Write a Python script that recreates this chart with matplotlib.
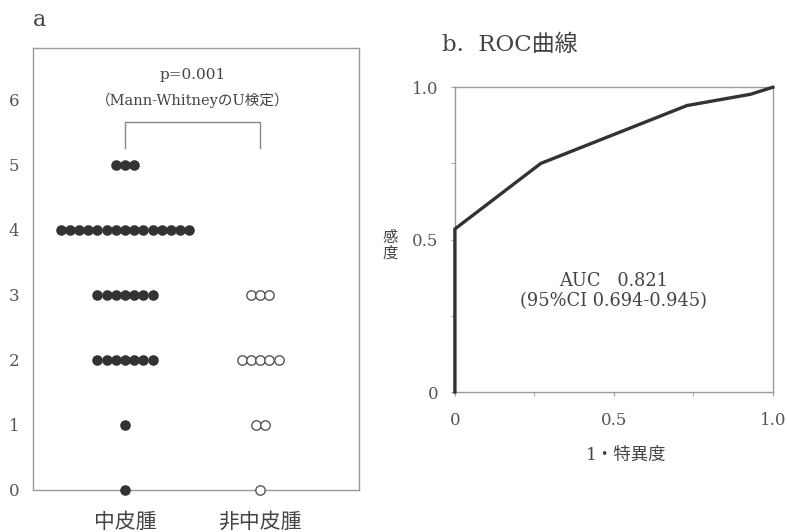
import matplotlib
matplotlib.use('Agg')
import matplotlib.pyplot as plt
import numpy as np

plt.rcParams['font.family'] = ['DejaVu Serif', 'Noto Sans CJK JP']

# panel a: score distribution
scores = [0, 1, 2, 3, 4, 5]
meso_counts = [1, 1, 7, 7, 15, 3]
nonmeso_counts = [1, 2, 5, 3, 0, 0]
group_labels = ['中皮腫', '非中皮腫']

# panel b: ROC curve
fpr = [0.0, 0.0, 0.27, 0.73, 0.93, 1.0]
tpr = [0.0, 0.535, 0.75, 0.94, 0.977, 1.0]
auc_text = 'AUC   0.821\n(95%CI 0.694-0.945)'

TXT = '#444444'
SPINE = '#9a9a9a'

fig = plt.figure(figsize=(7.87, 5.32), dpi=100)

# ---- a ----
ax = fig.add_axes([0.042, 0.079, 0.414, 0.831])
step = 0.068
for gx, counts, filled in [(1, meso_counts, True), (2, nonmeso_counts, False)]:
    for s, n in zip(scores, counts):
        if n == 0:
            continue
        xs = gx + (np.arange(n) - (n - 1) / 2) * step
        ys = np.full(n, s)
        if filled:
            ax.scatter(xs, ys, s=58, color='#333333', linewidth=0, zorder=3, clip_on=False)
        else:
            ax.scatter(xs, ys, s=46, facecolor='white', edgecolor='#555555',
                       linewidth=1.0, zorder=3, clip_on=False)

ax.set_xlim(0.32, 2.73)
ax.set_ylim(0, 6.8)
ax.set_yticks(range(0, 7))
ax.set_xticks([1, 2])
ax.set_xticklabels(group_labels)
ax.tick_params(axis='y', length=0, pad=10, labelsize=12, labelcolor='#555555')
ax.tick_params(axis='x', length=0, pad=16, labelsize=15, labelcolor=TXT)
for sp in ax.spines.values():
    sp.set_color(SPINE)
    sp.set_linewidth(1.0)

# significance bracket
ax.plot([1, 1, 2, 2], [5.26, 5.66, 5.66, 5.26], color='#888888', lw=1.0)
ax.text(1.5, 6.38, 'p=0.001', ha='center', va='center', fontsize=11, color=TXT)
ax.text(1.5, 6.0, '（Mann-WhitneyのU検定）', ha='center', va='center', fontsize=10.5, color=TXT)

fig.text(40 / 787, 1 - 20 / 532, 'a', fontsize=16, color=TXT, ha='center', va='center')

# ---- b ----
bx = fig.add_axes([0.578, 0.263, 0.404, 0.573])
bx.plot(fpr, tpr, color='#333333', lw=2.4, solid_joinstyle='miter', clip_on=False, zorder=3)
bx.set_xlim(0, 1)
bx.set_ylim(0, 1)
bx.set_xticks([0, 0.5, 1.0])
bx.set_xticklabels(['0', '0.5', '1.0'])
bx.set_yticks([0, 0.5, 1.0])
bx.set_yticklabels(['0', '0.5', '1.0'])
bx.set_xticks([0.25, 0.75], minor=True)
bx.set_yticks([0.25, 0.75], minor=True)
bx.tick_params(which='both', direction='out', length=3, color=SPINE, labelsize=12,
               labelcolor='#555555')
bx.tick_params(axis='x', pad=11)
bx.tick_params(axis='y', pad=9)
for sp in bx.spines.values():
    sp.set_color(SPINE)
    sp.set_linewidth(1.0)

bx.text(0.5, 0.33, auc_text, transform=bx.transAxes, ha='center', va='center',
        fontsize=12.8, color=TXT, linespacing=1.15)
bx.text(-0.205, 0.48, '感\n度', transform=bx.transAxes, ha='center', va='center',
        fontsize=11, color=TXT, linespacing=1.05)
bx.text(0.54, -0.207, '1・特異度', transform=bx.transAxes, ha='center', va='center',
        fontsize=12.5, color=TXT)

fig.text(442 / 787, 1 - 45 / 532, 'b.  ROC曲線', fontsize=16.5, color=TXT,
         ha='left', va='center')

fig.savefig('out.png', dpi=100, facecolor='white')
